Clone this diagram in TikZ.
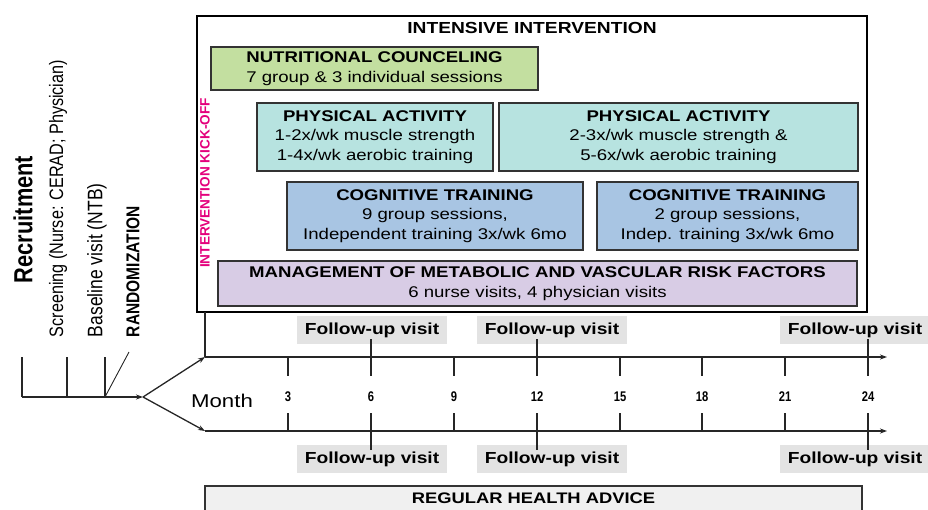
\documentclass[tikz,border=0pt]{standalone}
\usepackage{fontspec}
\setmainfont{Liberation Sans}
\usepackage{graphicx}
\usetikzlibrary{arrows.meta,calc}

\definecolor{nutri}{HTML}{C3DFA0}
\definecolor{physact}{HTML}{B7E3E0}
\definecolor{cogn}{HTML}{A8C5E3}
\definecolor{mgmt}{HTML}{D8CCE5}
\definecolor{visitbg}{HTML}{E3E3E3}
\definecolor{advice}{HTML}{F0F0F0}
\definecolor{panelline}{HTML}{333333}
\definecolor{kickoff}{HTML}{E4007C}

% horizontal / vertical text stretch
\newcommand{\hs}[1]{\scalebox{1.2}[1]{#1}}
\newcommand{\vs}[1]{\scalebox{1}[1.2]{#1}}
\newcommand{\fsz}[1]{\fontsize{#1}{#1}\selectfont}

\begin{document}
\begin{tikzpicture}[x=1pt,y=-1pt,
  every node/.style={inner sep=0pt,outer sep=0pt},
  outerbox/.style={draw=black,line width=1.5pt,fill=white},
  panel/.style={draw=panelline,line width=1.5pt,align=center,
    font=\fontsize{15.5}{19.5}\selectfont},
  visit/.style={fill=visitbg,minimum width=150pt,minimum height=28pt,
    font=\fsz{16}\bfseries},
  axis/.style={line width=1.3pt,draw=black!85},
  tip/.style={-{Stealth[length=7pt,width=5pt]}},
  tick/.style={line width=1.3pt,draw=black!85},
  month/.style={font=\fsz{14}\bfseries},
  vlabel/.style={rotate=90,anchor=west}
]
\useasboundingbox (0,0) rectangle (928,509);
\clip (0,0) rectangle (928,509);

% ---------- intensive intervention arm ----------
\node[outerbox,minimum width=670pt,minimum height=296pt] (ii) at (532,164) {};
\node[font=\fsz{16}\bfseries] (iititle) at (532,28) {\hs{INTENSIVE INTERVENTION}};

\node[panel,fill=nutri,minimum width=327pt,minimum height=43pt] (nut) at (374.5,68.5)
  {\hs{\textbf{NUTRITIONAL COUNCELING}}\\\hs{7 group \& 3 individual sessions}};

\node[panel,fill=physact,minimum width=236pt,minimum height=68pt] (pa1) at (375,137)
  {\hs{\textbf{PHYSICAL ACTIVITY}}\\\hs{1-2x/wk muscle strength}\\\hs{1-4x/wk aerobic training}};
\node[panel,fill=physact,minimum width=359pt,minimum height=68pt] (pa2) at (678.5,137)
  {\hs{\textbf{PHYSICAL ACTIVITY}}\\\hs{2-3x/wk muscle strength \&}\\\hs{5-6x/wk aerobic training}};

\node[panel,fill=cogn,minimum width=296pt,minimum height=68pt] (ct1) at (435,216)
  {\hs{\textbf{COGNITIVE TRAINING}}\\\hs{9 group sessions,}\\\hs{Independent training 3x/wk 6mo}};
\node[panel,fill=cogn,minimum width=261pt,minimum height=68pt] (ct2) at (727.5,216)
  {\hs{\textbf{COGNITIVE TRAINING}}\\\hs{2 group sessions,}\\\hs{Indep. training 3x/wk 6mo}};

\node[panel,fill=mgmt,minimum width=639pt,minimum height=45pt] (mg) at (537.5,283.5)
  {\hs{\textbf{MANAGEMENT OF METABOLIC AND VASCULAR RISK FACTORS}}\\\hs{6 nurse visits, 4 physician visits}};

\node[rotate=90,text=kickoff,font=\fsz{13.6}\bfseries] (kick) at (205,183) {INTERVENTION KICK-OFF};

% ---------- recruitment phase ----------
\node[vlabel,font=\fsz{21.8}\bfseries] (recr) at (23,283) {\vs{Recruitment}};
\node[vlabel,font=\fsz{16.2}] (scr) at (58,337) {\vs{Screening (Nurse: CERAD; Physician)}};
\node[vlabel,font=\fsz{17.5}] (base) at (97,337) {\vs{Baseline visit (NTB)}};
\node[vlabel,font=\fsz{15.5}\bfseries] (rand) at (133,337) {\vs{RANDOMIZATION}};

\coordinate (r0) at (22,397);
\coordinate (r1) at (67,397);
\coordinate (r2) at (105,397);
\coordinate (fork) at (143,397);
\coordinate (r0u) at (22,357);
\coordinate (r1u) at (67,357);
\coordinate (r2u) at (105,357);
\coordinate (rdz) at (129,352);

\draw[axis,tip] (r0) -- (fork);
\draw[tick] (r0) -- (r0u);
\draw[tick] (r1) -- (r1u);
\draw[tick] (r2) -- (r2u);
\draw[tick,line width=0.9pt] (r2) -- (rdz);

% ---------- time lines ----------
\coordinate (topstart) at (205,357);
\coordinate (topend) at (887,357);
\coordinate (botstart) at (205,431);
\coordinate (botend) at (887,431);

\draw[axis,tip] (fork) -- (topstart);
\draw[axis,tip] (fork) -- (botstart);
\draw[axis,tip] (topstart) -- (topend);
\draw[axis,tip] (botstart) -- (botend);
\draw[axis] (ii.south -| topstart) -- (topstart);

\node[font=\fsz{18.5}] (monthlbl) at (222,401) {\hs{Month}};

\foreach \m/\x in {3/288,6/371,9/454,12/537,15/620,18/702,21/785,24/868}{
  \coordinate (a\m) at (\x,357);
  \coordinate (a\m d) at (\x,376);
  \coordinate (b\m u) at (\x,413);
  \coordinate (b\m) at (\x,431);
  \node[month] (n\m) at (\x,397) {\scalebox{0.8}[1]{\m}};
}
\foreach \m in {3,9,15,18,21}{
  \draw[tick] (a\m) -- (a\m d);
  \draw[tick] (b\m u) -- (b\m);
}

% follow-up visits
\node[visit] (fu6t) at (372,330) {\hs{Follow-up visit}};
\node[visit] (fu12t) at (552,330) {\hs{Follow-up visit}};
\node[visit] (fu24t) at (855,330) {\hs{Follow-up visit}};
\node[visit] (fu6b) at (372,459) {\hs{Follow-up visit}};
\node[visit] (fu12b) at (552,459) {\hs{Follow-up visit}};
\node[visit] (fu24b) at (855,459) {\hs{Follow-up visit}};

\foreach \m in {6,12,24}{
  \draw[tick] ($(fu\m t.south -| a\m)+(0,-5)$) -- (a\m d);
  \draw[tick] (b\m u) -- ($(fu\m b.north -| b\m)+(0,5)$);
}

% ---------- regular health advice arm ----------
\node[draw=black!80,line width=2pt,fill=advice,minimum width=657pt,minimum height=50pt,
  anchor=north west] (rha) at (205,486) {};
\node[font=\fsz{15.3}\bfseries] (rhatext) at (533.5,498) {\hs{REGULAR HEALTH ADVICE}};

\end{tikzpicture}
\end{document}
